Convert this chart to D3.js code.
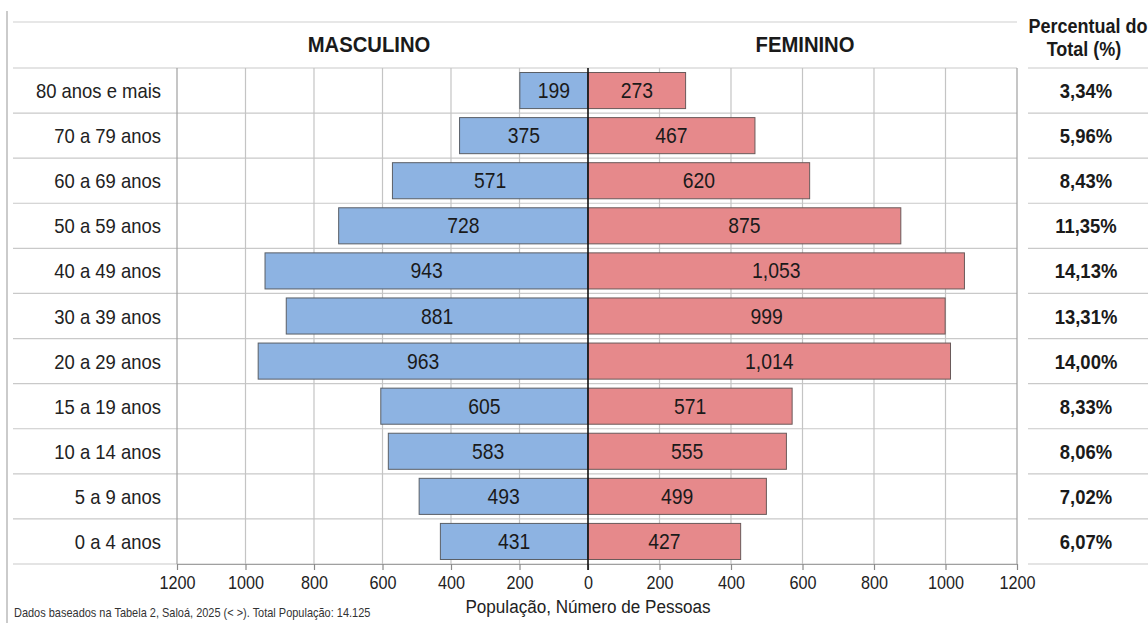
<!DOCTYPE html>
<html>
<head>
<meta charset="utf-8">
<script src="https://cdn.jsdelivr.net/npm/d3@7"></script>
<style>
  html, body { margin: 0; padding: 0; background: #fff; }
  svg { display: block; font-family: "Liberation Sans", Arial, "Helvetica", sans-serif; }
</style>
</head>
<body>
<svg id="chart" width="1148" height="623"></svg>
<script>
// Faixas etárias (de cima para baixo) e população por sexo
const ageGroups = [
  "80 anos e mais", "70 a 79 anos", "60 a 69 anos", "50 a 59 anos",
  "40 a 49 anos", "30 a 39 anos", "20 a 29 anos", "15 a 19 anos",
  "10 a 14 anos", "5 a 9 anos", "0 a 4 anos"
];
const male   = [199, 375, 571, 728, 943, 881, 963, 605, 583, 493, 431];
const female = [273, 467, 620, 875, 1053, 999, 1014, 571, 555, 499, 427];
const axisTicks = [0, 200, 400, 600, 800, 1000, 1200];
const totalPopulation = 14125;

const W = 1148, H = 623;
const SX = 0.9;                // condensed text width
const svg = d3.select("#chart");

const center = 588;
const plotTop = 68, plotBottom = 564;
const xL = d3.scaleLinear().domain([0, 1200]).range([center, 177]);
const xR = d3.scaleLinear().domain([0, 1200]).range([center, 1017]);
const y = d3.scaleBand().domain(ageGroups).range([plotTop, plotBottom])
  .paddingInner(0.2).paddingOuter(0.1);
const step = y.step();

const fmtVal = v => v >= 1000 ? d3.format(",")(v) : String(v);
const fmtPct = v => v.toFixed(2).replace(".", ",") + "%";

function text(g, x, yy, str, size, opts = {}) {
  return g.append("text")
    .attr("transform", `translate(${x},${yy}) scale(${SX},1)`)
    .attr("text-anchor", opts.anchor || "middle")
    .attr("font-size", size)
    .attr("font-weight", opts.bold ? "bold" : "normal")
    .attr("fill", opts.fill || "#1a1a1a")
    .text(str);
}

// outer frame lines
svg.append("line").attr("x1", 7).attr("x2", 7).attr("y1", 11).attr("y2", H)
  .attr("stroke", "#a8a8a8").attr("stroke-width", 1.2);
svg.append("line").attr("x1", 13).attr("x2", 1017).attr("y1", 22).attr("y2", 22)
  .attr("stroke", "#cfcfcf").attr("stroke-width", 1.2);

// horizontal row separators (label column + plot) and percent column
const grid = svg.append("g");
d3.range(ageGroups.length + 1).forEach(i => {
  const yy = plotTop + i * step;
  grid.append("line").attr("x1", 13).attr("x2", 1017).attr("y1", yy).attr("y2", yy)
    .attr("stroke", "#c9c9c9").attr("stroke-width", 1.2);
  grid.append("line").attr("x1", 1028).attr("x2", W).attr("y1", yy).attr("y2", yy)
    .attr("stroke", "#c9c9c9").attr("stroke-width", 1.2);
});

// vertical grid lines
axisTicks.filter(t => t > 0).forEach(t => {
  [xL(t), xR(t)].forEach(x => {
    grid.append("line").attr("x1", x).attr("x2", x).attr("y1", plotTop).attr("y2", plotBottom)
      .attr("stroke", t === 1200 ? "#a0a0a0" : "#c4c4c4").attr("stroke-width", 1.2);
  });
});

// axes
function styleAxis(g) {
  g.select(".domain").attr("stroke", "#a0a0a0").attr("stroke-width", 1.2);
  g.selectAll(".tick line").attr("stroke", "#8a8a8a").attr("stroke-width", 1.2);
  g.selectAll(".tick text")
    .attr("font-size", 18).attr("fill", "#222")
    .attr("font-family", "'Liberation Sans', Arial, sans-serif")
    .attr("y", 0).attr("dy", null)
    .attr("transform", `translate(0,25) scale(${SX},1)`);
}
const tickFmt = d3.format("d");
svg.append("g").attr("transform", `translate(0,${plotBottom})`)
  .call(d3.axisBottom(xL).tickValues(axisTicks).tickFormat(tickFmt).tickSize(6).tickSizeOuter(0))
  .call(styleAxis);
svg.append("g").attr("transform", `translate(0,${plotBottom})`)
  .call(d3.axisBottom(xR).tickValues(axisTicks.filter(t => t > 0)).tickFormat(tickFmt)
    .tickSize(6).tickSizeOuter(0))
  .call(styleAxis);

// bars
const bars = svg.append("g");
ageGroups.forEach((g, i) => {
  const by = y(g), bh = y.bandwidth();
  bars.append("rect")
    .attr("x", xL(male[i])).attr("y", by)
    .attr("width", xL(0) - xL(male[i])).attr("height", bh)
    .attr("fill", "#8db3e2").attr("stroke", "#5a5f66").attr("stroke-width", 1);
  bars.append("rect")
    .attr("x", xR(0)).attr("y", by)
    .attr("width", xR(female[i]) - xR(0)).attr("height", bh)
    .attr("fill", "#e6898b").attr("stroke", "#6a5a5a").attr("stroke-width", 1);
});

// center line
svg.append("line").attr("x1", center).attr("x2", center).attr("y1", plotTop).attr("y2", plotBottom + 6)
  .attr("stroke", "#111").attr("stroke-width", 1.6);

// value labels inside bars, age labels and share of total
const labels = svg.append("g");
ageGroups.forEach((g, i) => {
  const cy = y(g) + y.bandwidth() / 2 + 7.5;
  text(labels, (xL(male[i]) + xL(0)) / 2, cy, fmtVal(male[i]), 21.5);
  text(labels, (xR(0) + xR(female[i])) / 2, cy, fmtVal(female[i]), 21.5);
  text(labels, 161, cy, g, 20.5, { anchor: "end", fill: "#222" });
  text(labels, 1086, cy, fmtPct((male[i] + female[i]) / totalPopulation * 100), 20.5, { bold: true });
});

// headers
text(svg, 369, 52, "MASCULINO", 22.5, { bold: true });
text(svg, 805, 52, "FEMININO", 22.5, { bold: true });
text(svg, 1088, 33, "Percentual do", 20, { bold: true });
text(svg, 1084, 56, "Total (%)", 20, { bold: true });

// axis title and source note
text(svg, center, 613, "População, Número de Pessoas", 19, { fill: "#222" });
text(svg, 14, 617, "Dados baseados na Tabela 2, Saloá, 2025 (< >). Total População: 14.125", 12.2,
  { anchor: "start", fill: "#333" });
</script>
</body>
</html>
